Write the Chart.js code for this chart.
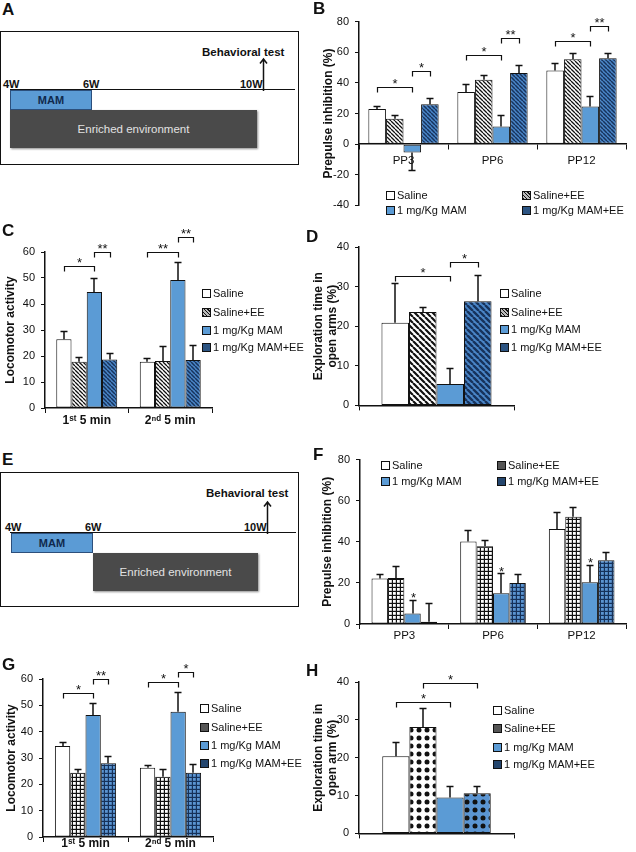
<!DOCTYPE html>
<html>
<head>
<meta charset="utf-8">
<script src="https://cdn.jsdelivr.net/npm/chart.js@4.4.1/dist/chart.umd.min.js"></script>
<style>
body { margin: 0; background: #fff; font-family: 'Liberation Sans', Arial, sans-serif; color: #111; }
#page { position: relative; width: 636px; height: 852px; overflow: hidden; }
canvas { position: absolute; }
.lab { position: absolute; font-weight: bold; font-size: 17px; line-height: 17px; z-index: 2; }
.leg { position: absolute; font-size: 11px; line-height: 14px; white-space: nowrap; z-index: 2; }
.sw { display: inline-block; width: 7px; height: 7px; border: 1px solid #111; margin-right: 2px; vertical-align: -1px; }
.s0 { background: #fff; }
.s2 { background: #5b9bd5; }
.h1 { background: repeating-linear-gradient(45deg, #111 0 1px, #bbb 1px 2.5px); }
.h3 { background: #2c5482; }
.d1 { background: #555; }
.d3 { background: #24466e; }
.tl { position: absolute; border: 1.5px solid #111; }
.ln { position: absolute; border-top: 1.5px solid #111; height: 0; }
.mam { position: absolute; box-sizing: border-box; background: #5b9bd5; border: 1px solid #2c4f7c; color: #10294d; font: bold 11px 'Liberation Sans', Arial, sans-serif; text-align: center; }
.ee { position: absolute; background: #4a4a4a; color: #e2e2e2; font-size: 11.5px; text-align: center; box-shadow: 1px 1px 2px rgba(0,0,0,.45); }
.wk { position: absolute; font-weight: bold; font-size: 11px; line-height: 12px; }
.bt { position: absolute; font-weight: bold; font-size: 11.5px; line-height: 14px; white-space: nowrap; }
.arr { position: absolute; }
</style>
</head>
<body>
<div id="page">
  <!-- A: jadwal MAM + EE sejak 4W -->
  <div class="lab" style="left:2px;top:1px">A</div>
  <div class="tl" style="left:0;top:31px;width:297px;height:132px"></div>
  <div class="ln" style="left:10px;top:89px;width:285px"></div>
  <div class="ee" style="left:10px;top:110px;width:247px;height:38px;line-height:38px">Enriched environment</div>
  <div class="mam" style="left:10px;top:90px;width:82px;height:20px;line-height:18px">MAM</div>
  <div class="wk" style="left:3px;top:78px">4W</div>
  <div class="wk" style="left:83px;top:78px">6W</div>
  <div class="wk" style="left:240px;top:78px">10W</div>
  <svg class="arr" style="left:258px;top:57px" width="11" height="34"><path d="M5.5 34V2M2 6.5L5.5 2 9 6.5" fill="none" stroke="#111" stroke-width="1.5"/></svg>
  <div class="bt" style="left:202px;top:45px">Behavioral test</div>

  <!-- E: jadwal MAM lalu EE sejak 6W -->
  <div class="lab" style="left:2px;top:451px">E</div>
  <div class="tl" style="left:0;top:472px;width:297px;height:133px"></div>
  <div class="ln" style="left:10px;top:532px;width:286px"></div>
  <div class="ee" style="left:93px;top:553px;width:165px;height:38px;line-height:38px">Enriched environment</div>
  <div class="mam" style="left:11px;top:533px;width:82px;height:20px;line-height:18px">MAM</div>
  <div class="wk" style="left:5px;top:521px">4W</div>
  <div class="wk" style="left:85px;top:521px">6W</div>
  <div class="wk" style="left:244px;top:521px">10W</div>
  <svg class="arr" style="left:262px;top:500px" width="11" height="34"><path d="M5.5 34V2M2 6.5L5.5 2 9 6.5" fill="none" stroke="#111" stroke-width="1.5"/></svg>
  <div class="bt" style="left:206px;top:486px">Behavioral test</div>

  <div class="lab" style="left:313px;top:0px">B</div>
  <div class="lab" style="left:2px;top:222px">C</div>
  <div class="lab" style="left:306px;top:228px">D</div>
  <div class="lab" style="left:313px;top:446px">F</div>
  <div class="lab" style="left:2px;top:656px">G</div>
  <div class="lab" style="left:306px;top:662px">H</div>

  <canvas id="cB"></canvas>
  <canvas id="cC"></canvas>
  <canvas id="cD"></canvas>
  <canvas id="cF"></canvas>
  <canvas id="cG"></canvas>
  <canvas id="cH"></canvas>
</div>

<script>
// Kelompok perlakuan dan label kategori
const groups = ['Saline', 'Saline+EE', '1 mg/Kg MAM', '1 mg/Kg MAM+EE'];
const ppLabels = ['PP3', 'PP6', 'PP12'];
const minLabels = ['1ˢᵗ 5 min', '2ⁿᵈ 5 min'];
const oneLabel = [''];

// B: prepulse inhibition (%), EE sejak 4W
const bSaline = [23, 34, 48];
const bSalineEE = [16.5, 42, 55.5];
const bMam = [-5.5, 11.5, 24.5];
const bMamEE = [26, 46.5, 56];
const bSalineErr = [2.2, 5.4, 5];
const bSalineEEErr = [2.2, 3.2, 3.8];
const bMamErr = [11.2, 7.2, 7];
const bMamEEErr = [4.3, 4.9, 3.2];
// [kategori, dari, ke, tinggi, teks]
const bSig = [[0, 0, 2, 37.5, '*'], [0, 2, 3, 47.6, '*'], [1, 0, 2, 58.2, '*'], [1, 2, 3, 69.3, '**'], [2, 0, 2, 67.4, '*'], [2, 2, 3, 77.4, '**']];

// C: locomotor activity
const cSaline = [26.4, 17.8];
const cSalineEE = [17.8, 18.1];
const cMam = [44.6, 49.2];
const cMamEE = [18.7, 18.5];
const cSalineErr = [3.2, 1.6];
const cSalineEEErr = [1.7, 5.7];
const cMamErr = [5.5, 7.1];
const cMamEEErr = [2.3, 5.7];
const cSig = [[0, 0, 2, 54.7, '*'], [0, 2, 3, 59.9, '**'], [1, 0, 2, 59.9, '**'], [1, 2, 3, 65.6, '**']];

// D: exploration time in open arms (%)
const dSaline = [20.9];
const dSalineEE = [23.6];
const dMam = [5.4];
const dMamEE = [26.3];
const dSalineErr = [10.1];
const dSalineEEErr = [1.3];
const dMamErr = [4];
const dMamEEErr = [6.6];
const dSig = [[0, 0, 2, 32.6, '*'], [0, 2, 3, 36.3, '*']];

// F: prepulse inhibition (%), EE sejak 6W
const fSaline = [22.2, 40.2, 46.2];
const fSalineEE = [22.4, 37.8, 52.2];
const fMam = [5.1, 15, 20.3];
const fMamEE = [1.1, 20, 31];
const fSalineErr = [2.1, 5.6, 8.4];
const fSalineEEErr = [5.9, 2.9, 4.8];
const fMamErr = [6.4, 9.8, 8.3];
const fMamEEErr = [9.1, 4.3, 4];
const fSig = [[0, 2, 2, 14.4, '*'], [1, 2, 2, 27.3, '*'], [2, 2, 2, 31.6, '*']];

// G: locomotor activity
const gSaline = [34.6, 26.3];
const gSalineEE = [24.4, 22.9];
const gMam = [46.3, 47.6];
const gMamEE = [28, 24.4];
const gSalineErr = [1.6, 1.0];
const gSalineEEErr = [1.6, 3.1];
const gMamErr = [4.5, 7.6];
const gMamEEErr = [2.9, 3.3];
const gSig = [[0, 0, 2, 54.5, '*'], [0, 2, 3, 59.9, '**'], [1, 0, 2, 59, '*'], [1, 2, 3, 62.8, '*']];

// H: exploration time in open arm (%)
const hSaline = [20.4];
const hSalineEE = [28.1];
const hMam = [9.5];
const hMamEE = [10.6];
const hSalineErr = [3.7];
const hSalineEEErr = [5.1];
const hMamErr = [2.9];
const hMamEEErr = [2];
const hSig = [[0, 0, 2, 34.6, '*'], [0, 1, 3, 39.8, '*']];

const FONT = "'Liberation Sans', Arial, sans-serif";
Chart.defaults.font.family = FONT;
Chart.defaults.color = '#111';

// Pola arsiran untuk batang
function tile(s, draw) {
    const c = document.createElement('canvas');
    c.width = s; c.height = s;
    const x = c.getContext('2d');
    draw(x, s);
    return x.createPattern(c, 'repeat');
}
function stripes(bg, fg, s, lw) {
    return tile(s, (x) => {
        x.fillStyle = bg; x.fillRect(0, 0, s, s);
        x.strokeStyle = fg; x.lineWidth = lw;
        x.beginPath();
        for (const k of [-s, 0, s]) { x.moveTo(k, 0); x.lineTo(k + s, s); }
        x.stroke();
    });
}
function checks(bg, fg, s, hole) {
    return tile(s, (x) => {
        x.fillStyle = fg; x.fillRect(0, 0, s, s);
        x.fillStyle = bg; x.fillRect(1, 1, hole, hole);
    });
}
function dots(bg, fg, s, r) {
    return tile(s, (x) => {
        x.fillStyle = bg; x.fillRect(0, 0, s, s);
        x.fillStyle = fg; x.beginPath(); x.arc(s / 2, s / 2, r, 0, Math.PI * 2); x.fill();
    });
}

const BLUE = '#5b9bd5';
const fillsHatch = ['#ffffff', stripes('#ffffff', '#111', 4, 1.3), BLUE, stripes('#4a86c8', '#17335c', 4, 1.5)];
const fillsHatchWide = ['#ffffff', stripes('#ffffff', '#111', 6, 2.2), BLUE, stripes('#4a86c8', '#17335c', 6, 2.4)];
const fillsCheck = ['#ffffff', checks('#ffffff', '#111', 4, 2.8), BLUE, checks('#5b95d2', '#16325a', 4, 2.8)];
const fillsDots = ['#ffffff', dots('#ffffff', '#111', 8, 2.5), BLUE, dots('#5b95d2', '#111', 8, 2.5)];

function makeSets(vals, errs, fills) {
    return vals.map((v, i) => ({
        label: groups[i],
        data: v,
        err: errs[i],
        backgroundColor: fills[i],
        borderColor: '#111',
        borderWidth: 1,
        borderSkipped: false
    }));
}

// Plugin: error bar + tanda signifikansi
function marks(sig) {
    return {
        id: 'marks',
        afterDatasetsDraw(chart) {
            const ctx = chart.ctx;
            const ys = chart.scales.y;
            ctx.save();
            ctx.strokeStyle = '#111';
            ctx.fillStyle = '#111';
            chart.data.datasets.forEach((ds, i) => {
                chart.getDatasetMeta(i).data.forEach((bar, j) => {
                    const v = ds.data[j], e = ds.err[j];
                    const y0 = ys.getPixelForValue(v);
                    const y1 = Math.round(ys.getPixelForValue(v < 0 ? v - e : v + e)) + 0.5;
                    const x = Math.round(bar.x);
                    ctx.lineWidth = 1.5;
                    ctx.beginPath();
                    ctx.moveTo(x, y0); ctx.lineTo(x, y1);
                    ctx.moveTo(x - 3.5, y1); ctx.lineTo(x + 3.5, y1);
                    ctx.stroke();
                });
            });
            ctx.font = '13px ' + FONT;
            ctx.textAlign = 'center';
            ctx.textBaseline = 'alphabetic';
            sig.forEach(([c, a, b, v, txt]) => {
                const xa = Math.round(chart.getDatasetMeta(a).data[c].x) + 0.5;
                const xb = Math.round(chart.getDatasetMeta(b).data[c].x) + 0.5;
                const y = Math.round(ys.getPixelForValue(v)) + 0.5;
                if (a === b) { ctx.fillText(txt, xa, y + 7); return; }
                ctx.lineWidth = 1.2;
                ctx.beginPath();
                ctx.moveTo(xa, y + 5); ctx.lineTo(xa, y); ctx.lineTo(xb, y); ctx.lineTo(xb, y + 5);
                ctx.stroke();
                ctx.fillText(txt, (xa + xb) / 2, y);
            });
            ctx.restore();
        }
    };
}

function barChart(cfg) {
    const b = cfg.box;
    const cv = document.getElementById(cfg.id);
    const left = b.ax - b.yW;
    const top = b.top - b.pt;
    const xH = b.xH || 0;
    cv.width = b.right + 6 - left;
    cv.height = b.bottom + xH + b.pb - top;
    cv.style.left = left + 'px';
    cv.style.top = top + 'px';
    return new Chart(cv, {
        type: 'bar',
        data: { labels: cfg.labels, datasets: cfg.sets },
        options: {
            responsive: false,
            animation: false,
            devicePixelRatio: 1,
            layout: { padding: { left: 0, top: b.pt, right: 6, bottom: b.pb } },
            datasets: { bar: { categoryPercentage: cfg.catPct, barPercentage: 1 } },
            plugins: { legend: { display: false }, tooltip: { enabled: false } },
            scales: {
                x: {
                    position: cfg.atZero ? { y: 0 } : 'bottom',
                    grid: { drawOnChartArea: false, tickLength: 5, color: '#111', offset: true },
                    border: { color: '#111', width: 1.5 },
                    ticks: { display: cfg.labels[0] !== '', font: cfg.xFont, padding: cfg.xPad, color: '#111' },
                    afterFit: (s) => { s.height = xH; }
                },
                y: {
                    min: cfg.yMin,
                    max: cfg.yMax,
                    ticks: { stepSize: cfg.step, font: { size: 11 }, padding: 6, color: '#111' },
                    grid: { drawOnChartArea: false, tickLength: 4, color: '#111' },
                    border: { color: '#111', width: 1.5 },
                    title: { display: true, text: cfg.title, color: '#111', font: { size: 12, weight: 'bold' }, padding: { top: cfg.tPad || 0, bottom: 0 } },
                    afterFit: (s) => { s.width = b.yW; }
                }
            }
        },
        plugins: [marks(cfg.sig)]
    });
}

barChart({
    id: 'cB', labels: ppLabels, atZero: true, catPct: 0.79,
    sets: makeSets([bSaline, bSalineEE, bMam, bMamEE], [bSalineErr, bSalineEEErr, bMamErr, bMamEEErr], fillsHatch),
    sig: bSig, yMin: -40, yMax: 80, step: 20, title: 'Prepulse inhibition (%)', tPad: 2,
    xFont: { size: 11.5 }, xPad: 5,
    box: { ax: 359, top: 21, bottom: 208, right: 626, yW: 40, pt: 12, pb: 10 }
});
barChart({
    id: 'cC', labels: minLabels, catPct: 0.73,
    sets: makeSets([cSaline, cSalineEE, cMam, cMamEE], [cSalineErr, cSalineEEErr, cMamErr, cMamEEErr], fillsHatch),
    sig: cSig, yMin: 0, yMax: 60, step: 10, title: 'Locomotor activity',
    xFont: { size: 12, weight: 'bold' }, xPad: 0,
    box: { ax: 45, top: 252, bottom: 408, right: 212, yW: 42, pt: 30, pb: 0, xH: 22 }
});
barChart({
    id: 'cD', labels: oneLabel, catPct: 0.71,
    sets: makeSets([dSaline, dSalineEE, dMam, dMamEE], [dSalineErr, dSalineEEErr, dMamErr, dMamEEErr], fillsHatchWide),
    sig: dSig, yMin: 0, yMax: 40, step: 10, title: ['Exploration time in', 'open arms (%)'],
    xFont: { size: 11 }, xPad: 0,
    box: { ax: 359, top: 247, bottom: 408, right: 514, yW: 48, pt: 20, pb: 0, xH: 10 }
});
barChart({
    id: 'cF', labels: ppLabels, catPct: 0.74,
    sets: makeSets([fSaline, fSalineEE, fMam, fMamEE], [fSalineErr, fSalineEEErr, fMamErr, fMamEEErr], fillsCheck),
    sig: fSig, yMin: 0, yMax: 80, step: 20, title: 'Prepulse inhibition (%)',
    xFont: { size: 11.5 }, xPad: 0,
    box: { ax: 360, top: 457, bottom: 624, right: 626, yW: 40, pt: 10, pb: 0, xH: 22 }
});
barChart({
    id: 'cG', labels: minLabels, catPct: 0.72,
    sets: makeSets([gSaline, gSalineEE, gMam, gMamEE], [gSalineErr, gSalineEEErr, gMamErr, gMamEEErr], fillsCheck),
    sig: gSig, yMin: 0, yMax: 60, step: 10, title: 'Locomotor activity',
    xFont: { size: 12, weight: 'bold' }, xPad: -6,
    box: { ax: 43, top: 679, bottom: 837, right: 213, yW: 39, pt: 30, pb: 0, xH: 15 }
});
barChart({
    id: 'cH', labels: oneLabel, catPct: 0.70,
    sets: makeSets([hSaline, hSalineEE, hMam, hMamEE], [hSalineErr, hSalineEEErr, hMamErr, hMamEEErr], fillsDots),
    sig: hSig, yMin: 0, yMax: 40, step: 10, title: ['Exploration time in', 'open arm (%)'],
    xFont: { size: 11 }, xPad: 0,
    box: { ax: 359, top: 682, bottom: 836, right: 514, yW: 48, pt: 20, pb: 0, xH: 10 }
});

// Legenda HTML: [x, y tengah, indeks kelompok]
const page = document.getElementById('page');
function legend(items, kind) {
    items.forEach(([x, y, g]) => {
        const d = document.createElement('div');
        d.className = 'leg';
        d.style.left = x + 'px';
        d.style.top = (y - 7) + 'px';
        const cls = g === 0 ? 's0' : g === 2 ? 's2' : kind + g;
        d.innerHTML = '<span class="sw ' + cls + '"></span>' + groups[g];
        page.appendChild(d);
    });
}
legend([[386, 195, 0], [522, 195, 1], [386, 210, 2], [522, 210, 3]], 'h');
legend([[202, 293, 0], [202, 312, 1], [202, 330, 2], [202, 347, 3]], 'h');
legend([[500, 293, 0], [500, 312, 1], [500, 329, 2], [500, 347, 3]], 'h');
legend([[381, 465, 0], [497, 465, 1], [381, 481, 2], [497, 481, 3]], 'd');
legend([[200, 708, 0], [200, 727, 1], [200, 745, 2], [200, 763, 3]], 'd');
legend([[493, 710, 0], [493, 728, 1], [493, 747, 2], [493, 764, 3]], 'd');
</script>
</body>
</html>
